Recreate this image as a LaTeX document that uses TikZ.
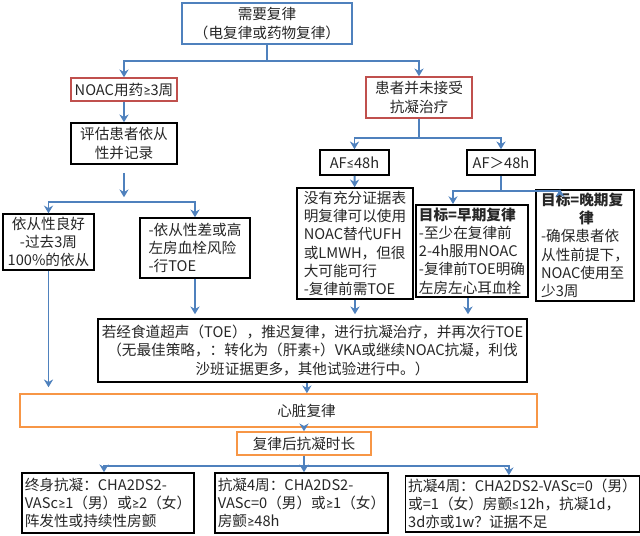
\documentclass[tikz,border=0pt]{standalone}
\usepackage{fontspec}
\setmainfont{Noto Sans CJK SC}
\newfontfamily\lat{Carlito}
\usetikzlibrary{arrows.meta}
\definecolor{lineblue}{HTML}{4F81BD}
\definecolor{boxred}{HTML}{C0504D}
\definecolor{boxorange}{HTML}{F79646}
\tikzset{
  box/.style={draw,line width=1.1pt,inner sep=2pt,align=center,text=black!85},
  bluebox/.style={box,draw=lineblue},
  redbox/.style={box,draw=boxred},
  orangebox/.style={box,draw=boxorange},
  blackbox/.style={box,draw=black},
  arr/.style={-{Stealth[length=5.5pt,width=6.5pt]},draw=lineblue,line width=1.3pt},
}
\begin{document}
\begin{tikzpicture}[x=0.025cm,y=-0.025cm,font=\fontsize{10.4}{13}\selectfont]
\useasboundingbox (0,0) rectangle (640,535);
% start and the two branches
\node[bluebox,minimum width=4.25cm,minimum height=1.025cm] (need) at (267,23.5) {需要复律\\（电复律或药物复律）};
\node[redbox,minimum width=2.65cm,minimum height=0.575cm] (noac) at (124,89.5) {NOAC用药{\lat ≥}3周};
\node[blackbox,minimum width=2.65cm,minimum height=1.025cm] (assess) at (124,143.5) {评估患者依从\\性并记录};
\node[redbox,minimum width=2.65cm,minimum height=1.025cm] (noanti) at (419,97.5) {患者并未接受\\抗凝治疗};
\node[blackbox,minimum width=1.725cm,minimum height=0.625cm] (afl) at (354.5,162.5) {AF{\lat ≤}48h};
\node[blackbox,minimum width=1.7cm,minimum height=0.625cm] (afg) at (501,162.5) {AF＞48h};
% second row
\node[blackbox,minimum width=2.275cm,minimum height=1.35cm] (good) at (48.5,242) {依从性良好\\-过去3周\\100\%的依从};
\node[blackbox,align=left,minimum width=2.75cm,minimum height=1.5cm] (poor) at (195,248) {-依从性差或高\\左房血栓风险\\-行TOE};
\node[blackbox,align=left,minimum width=2.9cm,minimum height=2.775cm] (nolate) at (355,243.5) {没有充分证据表\\明复律可以使用\\NOAC替代UFH\\或LMWH，但很\\大可能可行\\-复律前需TOE};
\node[blackbox,align=left,minimum width=2.8cm,minimum height=2.3cm] (early) at (472,251) {\textbf{目标=早期复律}\\-至少在复律前\\2-4h服用NOAC\\-复律前TOE明确\\左房左心耳血栓};
\node[blackbox,align=left,minimum width=2.45cm,minimum height=2.225cm] (late) at (585,245.5) {\textbf{目标=晚期复}\\\hspace*{0.95cm}\textbf{律}\\-确保患者依\\从性前提下，\\NOAC使用至\\少3周};
\node[blackbox,minimum width=10.725cm,minimum height=1.575cm] (toe) at (312.5,350.5) {若经食道超声（TOE），推迟复律，进行抗凝治疗，并再次行TOE\\（无最佳策略，：转化为（肝素+）VKA或继续NOAC抗凝，利伐\\沙班证据更多，其他试验进行中。）};
% cardioversion and after
\node[orangebox,minimum width=12.925cm,minimum height=0.825cm] (cv) at (278.5,410.5) {\hspace*{1.4cm}心脏复律};
\node[orangebox,minimum width=3.35cm,minimum height=0.575cm] (post) at (304,443.5) {复律后抗凝时长};
\node[blackbox,align=left,minimum width=4.25cm,minimum height=1.5cm] (life) at (108,503) {终身抗凝：CHA2DS2-\\VASc{\lat ≥}1（男）或{\lat ≥}2（女）\\阵发性或持续性房颤};
\node[blackbox,align=left,minimum width=4.325cm,minimum height=1.5cm] (four) at (301.5,503) {抗凝4周：CHA2DS2-\\VASc=0（男）或{\lat ≥}1（女）\\房颤{\lat ≥}48h};
\node[blackbox,align=left,minimum width=5.675cm,minimum height=1.4cm] (short) at (522.5,504) {抗凝4周：CHA2DS2-VASc=0（男）\\或=1（女）房颤{\lat ≤}12h，抗凝1d，\\3d亦或1w？证据不足};
% connectors
\draw[arr] (need.south) -- ++(0,16) -| (noac.north);
\draw[arr] (need.south) -- ++(0,16) -| (noanti.north);
\draw[arr] (noac) -- (assess);
\coordinate (fork1) at (124,202);
\draw[arr,shorten <=0.2cm] (assess.south) -- ([yshift=0.12cm]fork1);
\draw[arr] (fork1) -| (good.north);
\draw[arr] (fork1) -| (poor.north);
\draw[arr,shorten >=0.15cm] (good.south) -- (good.south |- cv.north);
\draw[arr,shorten >=0.1cm] (poor.south) -- (poor.south |- toe.north);
\draw[arr] (noanti.south) -- ++(0,19) -| (afl.north);
\draw[arr] (noanti.south) -- ++(0,19) -| (afg.north);
\draw[arr] (afl) -- (nolate);
\draw[arr] (afg.south) -- ++(0,15) -| ([xshift=-0.475cm]early.north);
\draw[arr] (afg.south) -- ++(0,15) -| ([xshift=-0.625cm]late.north);
\draw[arr,shorten >=0.1cm] (nolate.south) -- (nolate.south |- toe.north);
\draw[arr,shorten >=0.1cm] ([xshift=-0.1cm]early.south) -- ([xshift=-0.1cm]early.south |- toe.north);
\draw[arr] ([xshift=-0.14cm]toe.south) -- ([xshift=-0.14cm]toe.south |- cv.north);
\draw[arr] (cv.south -| post.north) -- (post.north);
\draw[arr] (post.south) -- ++(0,10) -| ([xshift=-0.1cm]life.north);
\draw[arr] (post.south) -- (post.south |- four.north);
\draw[arr] (post.south) -- ++(0,10) -| ([xshift=-0.34cm]short.north);
\end{tikzpicture}
\end{document}
